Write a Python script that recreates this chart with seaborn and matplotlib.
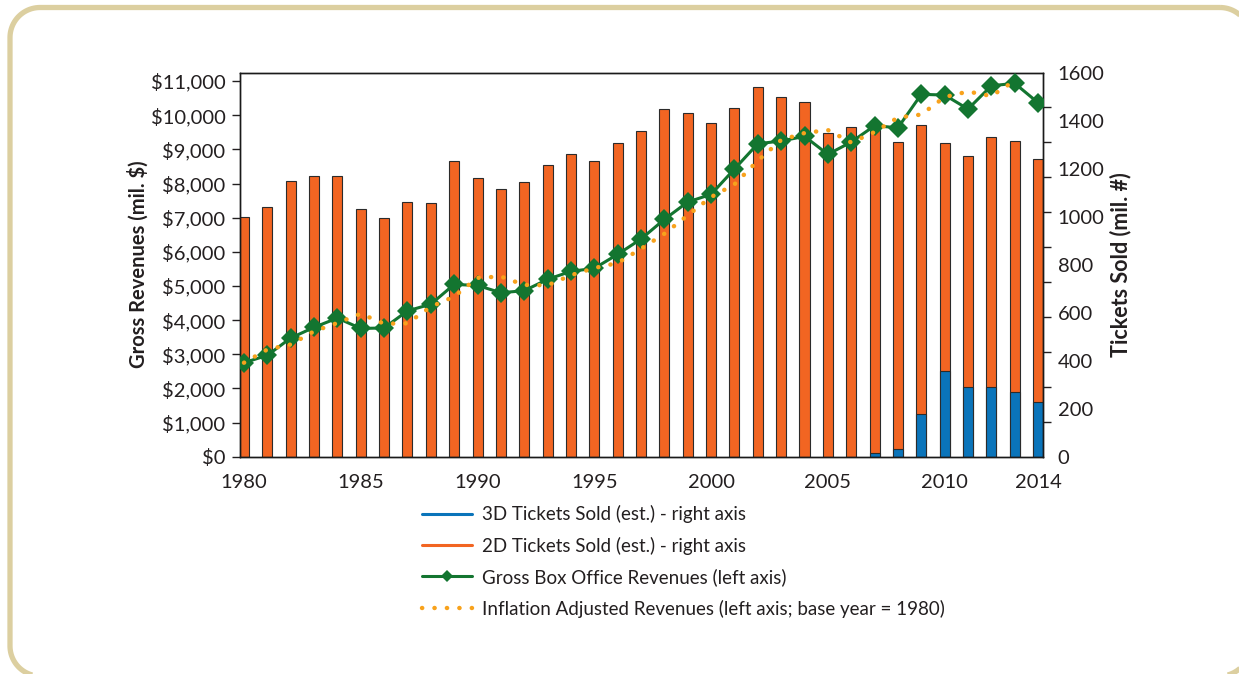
import numpy as np
import pandas as pd
import matplotlib
matplotlib.use("Agg")
import matplotlib.pyplot as plt
from matplotlib.lines import Line2D
from matplotlib.patches import Polygon
from matplotlib.ticker import FixedLocator, FuncFormatter
import seaborn as sns

# ---- data -------------------------------------------------------------
years = list(range(1980, 2015))

# total tickets sold (mil.), right axis
tickets_total = [997, 1042, 1147, 1169, 1171, 1031, 993, 1062, 1058, 1233,
                 1160, 1114, 1144, 1214, 1261, 1233, 1308, 1356, 1447, 1432,
                 1389, 1453, 1540, 1497, 1476, 1348, 1373, 1368, 1311, 1381,
                 1308, 1253, 1331, 1314, 1240]
# 3D share of tickets (mil.), right axis
tickets_3d = [0, 0, 0, 0, 0, 0, 0, 0, 0, 0,
              0, 0, 0, 0, 0, 0, 0, 0, 0, 0,
              0, 0, 0, 0, 0, 0, 0, 15, 32, 178,
              356, 292, 292, 271, 226]
# gross box office revenues (mil. $), left axis
gross_revenue = [2752, 2968, 3475, 3788, 4060, 3755, 3770, 4270, 4465, 5045,
                 5015, 4802, 4861, 5194, 5428, 5516, 5926, 6374, 6951, 7458,
                 7683, 8424, 9165, 9244, 9381, 8854, 9214, 9692, 9633, 10611,
                 10591, 10181, 10863, 10933, 10365]
# inflation adjusted revenues (mil. $, base year 1980), left axis
adjusted_revenue = [2752, 3140, 3285, 3672, 3915, 4187, 3895, 3905, 4389, 4690,
                    5238, 5276, 5030, 5019, 5314, 5525, 5672, 6090, 6529, 7068,
                    7604, 7975, 8667, 9273, 9478, 9566, 9200, 9507, 9932, 10020,
                    10532, 10693, 10561, 11010, np.nan]

year_ticks = [1980, 1985, 1990, 1995, 2000, 2005, 2010, 2014]
revenue_ticks = list(range(0, 11001, 1000))
ticket_ticks = list(range(0, 1601, 200))

legend_labels = ["3D Tickets Sold (est.) - right axis",
                 "2D Tickets Sold (est.) - right axis",
                 "Gross Box Office Revenues (left axis)",
                 "Inflation Adjusted Revenues (left axis; base year = 1980)"]

df = pd.DataFrame({"year": years, "total": tickets_total, "d3": tickets_3d,
                   "gross": gross_revenue, "adjusted": adjusted_revenue})

# ---- style ------------------------------------------------------------
ORANGE = "#F26522"
BLUE = "#0A74BA"
GREEN = "#137530"
GOLD = "#F8A21C"
EDGE = "#2b2b2b"
TEXT = "#231F20"
FRAME = "#DCCFA0"

sns.set_theme(style="white")
plt.rcParams["font.family"] = ["Lato", "DejaVu Sans"]
plt.rcParams["text.color"] = TEXT
plt.rcParams["axes.labelcolor"] = TEXT
plt.rcParams["xtick.color"] = TEXT
plt.rcParams["ytick.color"] = TEXT

W, H = 1239, 674
fig = plt.figure(figsize=(W / 100, H / 100), dpi=100)
ax_l = fig.add_axes([0.1937, 0.3224, 0.8418 - 0.1937, 0.8924 - 0.3224])
ax_r = ax_l.twinx()
ax_l.set_zorder(ax_r.get_zorder() + 1)
ax_l.patch.set_visible(False)

# stacked bars: full height in orange, 3D part overlaid in blue
sns.barplot(data=df, x="year", y="total", native_scale=True, width=0.43,
            color=ORANGE, saturation=1, edgecolor=EDGE, linewidth=0.8,
            errorbar=None, ax=ax_r)
sns.barplot(data=df[df["d3"] > 0], x="year", y="d3", native_scale=True,
            width=0.43, color=BLUE, saturation=1, edgecolor=EDGE,
            linewidth=0.8, errorbar=None, ax=ax_r)

# revenue lines
sns.lineplot(data=df, x="year", y="gross", color=GREEN, linewidth=2.2,
             marker="D", markersize=10, markeredgewidth=0, legend=False,
             ax=ax_l, zorder=3)
sns.lineplot(data=df.dropna(), x="year", y="adjusted", color=GOLD,
             linewidth=3.2, linestyle=(0, (0.05, 2.75)),
             dash_capstyle="round", legend=False, ax=ax_l, zorder=4)

# ---- axes -------------------------------------------------------------
xlim = (1979.83, 2014.21)
ax_l.set_xlim(*xlim)
ax_r.set_xlim(*xlim)
ax_l.set_ylim(0, 11250)
ax_r.set_ylim(0, 1600)

TICK_FS = 14.5
ax_l.set_xticks(year_ticks)
ax_l.set_xticklabels([str(y) for y in year_ticks])
ax_l.tick_params(axis="x", length=0, pad=12.5, labelsize=TICK_FS)
ax_r.tick_params(axis="x", length=0, labelbottom=False)

ax_l.yaxis.set_major_locator(FixedLocator(revenue_ticks))
ax_l.yaxis.set_major_formatter(FuncFormatter(lambda v, p: f"${v:,.0f}"))
ax_l.tick_params(axis="y", which="major", left=True, direction="out",
                 length=6, width=1, pad=4.5, labelsize=TICK_FS)

# right axis: labelled every 200, tick marks dividing the height in 11
ax_r.yaxis.set_major_locator(FixedLocator(ticket_ticks))
ax_r.yaxis.set_minor_locator(FixedLocator(np.linspace(0, 1600, 12)))
ax_r.tick_params(axis="y", which="major", length=0, pad=10.5,
                 labelsize=TICK_FS)
ax_r.tick_params(axis="y", which="minor", right=True, direction="out",
                 length=6, width=1)

ax_l.set_xlabel("")
ax_l.set_ylabel("Gross Revenues (mil. $)", fontsize=14.5, fontweight="bold",
                labelpad=1.5)
ax_r.set_ylabel("Tickets Sold (mil. #)", fontsize=15.5, fontweight="bold",
                labelpad=3.5)

for a in (ax_l, ax_r):
    for s in a.spines.values():
        s.set_color("#1a1a1a")
        s.set_linewidth(1.0)
    a.grid(False)

# ---- legend -----------------------------------------------------------
LEG_FS = 13.5
handles = [
    Line2D([], [], color=BLUE, linewidth=2.2),
    Line2D([], [], color=ORANGE, linewidth=2.2),
    Line2D([], [], color=GREEN, linewidth=2.2, marker="D", markersize=6,
           markeredgewidth=0),
    Line2D([], [], color=GOLD, linewidth=3.2, linestyle=(0, (0.05, 2.75)),
           dash_capstyle="round"),
]
fig.legend(handles, legend_labels, loc="upper left",
           bbox_to_anchor=(0.3406, 0.2507), frameon=False, fontsize=LEG_FS,
           handlelength=2.67, handletextpad=0.53, labelspacing=0.72,
           borderpad=0, borderaxespad=0)


# ---- rounded frame around the figure ------------------------------------
def rounded_rect(x0, y0, x1, y1, r, n=24):
    """Outline of a rounded rectangle in pixel units (y down)."""
    pts = []
    corners = [(x1 - r, y0 + r, -90, 0), (x1 - r, y1 - r, 0, 90),
               (x0 + r, y1 - r, 90, 180), (x0 + r, y0 + r, 180, 270)]
    for cx, cy, a0, a1 in corners:
        t = np.radians(np.linspace(a0, a1, n))
        pts.extend(zip(cx + r * np.cos(t), cy + r * np.sin(t)))
    pts = np.array(pts)
    return np.column_stack([pts[:, 0] / W, 1 - pts[:, 1] / H])


frame = Polygon(rounded_rect(10, 7.5, 1250, 676, 30), closed=True,
                transform=fig.transFigure, facecolor="none",
                edgecolor=FRAME, linewidth=3.8, clip_on=False)
fig.add_artist(frame)

fig.savefig("out.png", dpi=100)
